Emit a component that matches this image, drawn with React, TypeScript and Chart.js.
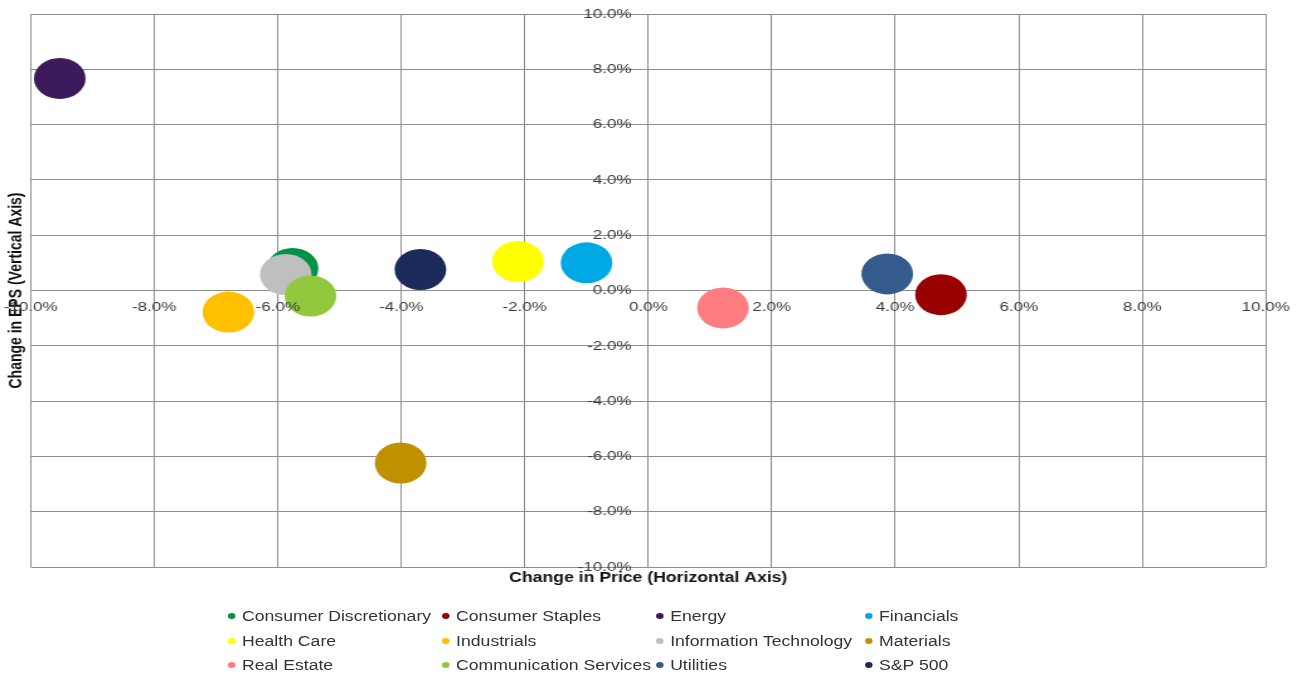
import React, { useEffect, useRef } from "react";
import { Chart, registerables } from "chart.js";

Chart.register(...registerables);

// ---- data ----
const sectors = [
  "Consumer Discretionary",
  "Consumer Staples",
  "Energy",
  "Financials",
  "Health Care",
  "Industrials",
  "Information Technology",
  "Materials",
  "Real Estate",
  "Communication Services",
  "Utilities",
  "S&P 500",
];
// Change in Price (%)
const priceChange = [-5.76, 4.74, -9.53, -1.0, -2.11, -6.8, -5.87, -4.01, 1.21, -5.47, 3.87, -3.69];
// Change in EPS (%)
const epsChange = [0.8, -0.15, 7.67, 1.0, 1.05, -0.78, 0.58, -6.24, -0.63, -0.2, 0.6, 0.76];
const sectorColors = [
  "#009245",
  "#990000",
  "#3d1a5c",
  "#00a9e6",
  "#ffff00",
  "#ffc000",
  "#bfbfbf",
  "#bf9000",
  "#ff7c80",
  "#93c83e",
  "#355a8c",
  "#1c2b59",
];
const xTickValues = [-10, -8, -6, -4, -2, 0, 2, 4, 6, 8, 10];
const yTickValues = [-10, -8, -6, -4, -2, 0, 2, 4, 6, 8, 10];
const xTitle = "Change in Price (Horizontal Axis)";
const yTitle = "Change in EPS (Vertical Axis)";

// ---- layout / style ----
const BASE_W = 1030;
const BASE_H = 675;
const STRETCH = 1297 / BASE_W;
const FONT = "'Liberation Sans', Arial, sans-serif";
const GRID = "#8e8e8e";
const TICK_COLOR = "#3a3a3a";
const legendCols = [184.2, 354.2, 524.2, 690.1];
const legendRows = [616, 641, 665];
// y tick labels sit a little to the left of the vertical zero line
const Y_LABEL_ANCHOR = -0.27;

const fmt = (v: number) => Number(v).toFixed(1) + "%";
const zeroPadding = (s: any) => {
  s.paddingLeft = 0;
  s.paddingRight = 0;
  s.paddingTop = 0;
  s.paddingBottom = 0;
};

export default function App() {
  const canvasRef = useRef<HTMLCanvasElement | null>(null);

  useEffect(() => {
    document.body.style.overflow = "hidden";
    const canvas = canvasRef.current;
    if (!canvas) return;
    const datasets = sectors.map((name, i) => ({
      label: name,
      data: [{ x: priceChange[i], y: epsChange[i] }],
      backgroundColor: sectorColors[i],
      borderColor: sectorColors[i],
      pointRadius: 20.5,
      pointHoverRadius: 20.5,
      pointBorderWidth: 0,
      order: sectors.length - i,
    }));

    const chart = new Chart(canvas, {
      type: "scatter",
      data: { datasets },
      options: {
        animation: false,
        responsive: false,
        devicePixelRatio: 1,
        layout: { autoPadding: false, padding: { top: 14, right: 24.8, bottom: 88.2, left: 0 } },
        plugins: {
          legend: { display: false },
          tooltip: { enabled: false },
          title: { display: false },
        },
        events: [],
        scales: {
          x: {
            type: "linear",
            position: { y: 0 } as any,
            min: -10,
            max: 10,
            afterBuildTicks: (scale: any) => {
              scale.ticks = xTickValues.map((v) => ({ value: v }));
            },
            afterFit: zeroPadding,
            grid: { color: GRID, lineWidth: 1, drawTicks: true, tickLength: 9, tickColor: GRID },
            border: { display: false },
            ticks: {
              z: 1,
              padding: 0,
              maxRotation: 0,
              autoSkip: false,
              color: TICK_COLOR,
              font: { family: FONT, size: 13.5 },
              callback: (v: any) => fmt(v),
            },
          },
          y: {
            type: "linear",
            position: { x: Y_LABEL_ANCHOR } as any,
            min: -10,
            max: 10,
            afterBuildTicks: (scale: any) => {
              scale.ticks = yTickValues.map((v) => ({ value: v }));
            },
            afterFit: zeroPadding,
            grid: { color: GRID, lineWidth: 1, drawTicks: false },
            border: { display: false },
            ticks: {
              z: 1,
              padding: 0,
              autoSkip: false,
              color: TICK_COLOR,
              font: { family: FONT, size: 13.5 },
              callback: (v: any) => fmt(v),
            },
          },
          xTitleAxis: {
            type: "linear",
            axis: "x",
            position: "bottom",
            grid: { display: false, drawTicks: false },
            border: { display: false },
            ticks: { display: false },
            title: {
              display: true,
              text: xTitle,
              color: "#111111",
              font: { family: FONT, size: 14, weight: "bold" },
              padding: { top: 3, bottom: 0 },
            },
          },
          yTitleAxis: {
            type: "linear",
            axis: "y",
            position: "left",
            grid: { display: false, drawTicks: false },
            border: { display: false },
            ticks: { display: false },
            title: {
              display: true,
              text: yTitle,
              color: "#111111",
              font: { family: FONT, size: 14, weight: "bold" },
              padding: { top: 5, bottom: 2.6 },
            },
          },
        } as any,
      },
    });
    return () => chart.destroy();
  }, []);

  return (
    <div
      style={{
        position: "absolute",
        left: 0,
        top: 0,
        width: BASE_W,
        height: BASE_H,
        transform: `scaleX(${STRETCH})`,
        transformOrigin: "0 0",
        background: "#ffffff",
      }}
    >
      <canvas ref={canvasRef} width={BASE_W} height={BASE_H} style={{ position: "absolute", left: 0, top: 0 }} />
      {sectors.map((name, i) => {
        const col = i % 4;
        const row = Math.floor(i / 4);
        return (
          <div
            key={name}
            style={{
              position: "absolute",
              left: legendCols[col] - 3,
              top: legendRows[row] - 9,
              height: 18,
              display: "flex",
              alignItems: "center",
              whiteSpace: "nowrap",
              fontFamily: FONT,
              fontSize: 14,
              color: "#333333",
            }}
          >
            <span
              style={{
                display: "inline-block",
                width: 6,
                height: 6,
                borderRadius: "50%",
                background: sectorColors[i],
                marginRight: 5,
              }}
            />
            <span>{name}</span>
          </div>
        );
      })}
    </div>
  );
}
